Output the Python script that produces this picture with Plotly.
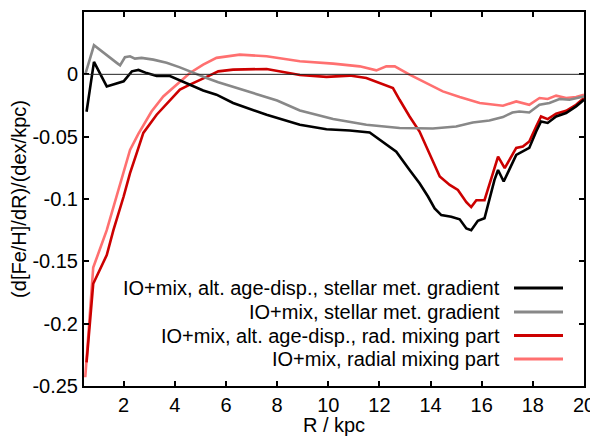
import plotly.graph_objects as go

OUTPUT_FILE = "out.html"

# IO+mix, alt. age-disp., stellar met. gradient
r_black = [0.55, 0.84, 1.34, 2.0, 2.32, 2.58, 2.9, 3.29, 3.81, 4.2, 4.59, 5.11, 5.63, 6.28, 7.59,
           8.89, 9.93, 10.84, 11.62, 12.0, 12.66, 13.18, 13.57, 13.9, 14.16, 14.42, 14.81, 15.14,
           15.4, 15.59, 15.85, 16.11, 16.31, 16.5, 16.64, 16.86, 17.35, 17.86, 18.13, 18.32, 18.58,
           18.91, 19.3, 19.69, 20.0]
g_black = [-0.030, 0.010, -0.0097, -0.0056, 0.0024, 0.0035, 0.001, -0.0013, -0.0013, -0.005, -0.0083,
           -0.013, -0.0163, -0.023, -0.0324, -0.0405, -0.044, -0.045, -0.0467, -0.0525, -0.062, -0.0767,
           -0.0874, -0.098, -0.1075, -0.1129, -0.1142, -0.1163, -0.1236, -0.125, -0.1175, -0.1155,
           -0.1008, -0.0847, -0.0767, -0.086, -0.0646, -0.059, -0.0459, -0.0378, -0.039, -0.0338,
           -0.031, -0.0257, -0.0204]

# IO+mix, stellar met. gradient
r_grey = [0.5, 0.84, 1.73, 1.86, 2.05, 2.25, 2.44, 2.7, 3.16, 3.68, 4.2, 4.72, 5.24, 5.7, 7.0, 8.0,
          8.89, 10.19, 11.49, 12.79, 14.09, 15.0, 15.65, 16.3, 16.83, 17.2, 17.47, 17.86, 18.26,
          18.65, 19.04, 19.43, 20.0]
g_grey = [0.0, 0.0233, 0.0092, 0.0072, 0.0137, 0.0145, 0.0126, 0.0132, 0.0118, 0.0092, 0.0056, 0.0011,
          -0.0029, -0.0064, -0.0145, -0.021, -0.029, -0.0359, -0.0405, -0.0431, -0.0434, -0.0418,
          -0.0386, -0.037, -0.0343, -0.0306, -0.0298, -0.0306, -0.0244, -0.023, -0.0198, -0.0204,
          -0.0177]

# IO+mix, alt. age-disp., rad. mixing part
r_dred = [0.55, 0.81, 1.34, 1.6, 2.0, 2.25, 2.51, 2.77, 3.29, 3.81, 4.2, 4.59, 4.98, 5.37, 5.7, 6.28,
          7.59, 8.89, 9.93, 10.84, 11.49, 12.0, 12.53, 12.79, 13.18, 13.57, 13.96, 14.36, 14.75,
          15.07, 15.4, 15.59, 15.79, 16.11, 16.44, 16.64, 16.9, 17.35, 17.61, 17.86, 18.13, 18.32,
          18.58, 18.91, 19.3, 19.69, 20.0]
g_dred = [-0.231, -0.168, -0.145, -0.125, -0.098, -0.0793, -0.0632, -0.047, -0.0324, -0.0204, -0.0123,
          -0.0083, -0.0043, -0.0008, 0.0024, 0.0038, 0.0043, -0.0005, -0.002, -0.001, -0.003, -0.007,
          -0.011, -0.0204, -0.0338, -0.0459, -0.0632, -0.082, -0.0887, -0.0928, -0.1025, -0.1065,
          -0.101, -0.101, -0.0793, -0.066, -0.0753, -0.059, -0.058, -0.0539, -0.0418, -0.0338,
          -0.0359, -0.0316, -0.0292, -0.0244, -0.019]

# IO+mix, radial mixing part
r_lred = [0.5, 0.81, 1.34, 1.73, 2.0, 2.25, 2.57, 3.09, 3.55, 4.07, 4.59, 5.11, 5.63, 6.54, 7.59, 8.89,
          10.19, 11.23, 11.88, 12.27, 12.6, 13.18, 13.83, 14.48, 15.14, 15.92, 16.83, 17.35, 17.86,
          18.26, 18.58, 18.91, 19.3, 19.69, 20.0]
g_lred = [-0.243, -0.155, -0.125, -0.098, -0.0793, -0.0606, -0.048, -0.0298, -0.0177, -0.0083, 0.0011,
          0.0078, 0.0132, 0.0158, 0.0145, 0.0105, 0.0086, 0.0064, 0.0032, 0.0064, 0.0064, -0.0002,
          -0.0069, -0.0137, -0.0182, -0.023, -0.0252, -0.0217, -0.0244, -0.019, -0.0198, -0.0171,
          -0.019, -0.0182, -0.0163]

labels = ["IO+mix, alt. age-disp., stellar met. gradient",
          "IO+mix, stellar met. gradient",
          "IO+mix, alt. age-disp., rad. mixing part",
          "IO+mix, radial mixing part"]
colors = ["#000000", "#888888", "#cc0000", "#ff7070"]

x_ticks = [2, 4, 6, 8, 10, 12, 14, 16, 18, 20]
y_ticks = [-0.25, -0.2, -0.15, -0.1, -0.05, 0, 0.05]
y_ticktext = ["-0.25", "-0.2", "-0.15", "-0.1", "-0.05", "0", "0.05"]

FONT = "Liberation Sans, Arial, sans-serif"
FS = 20

fig = go.Figure()

# zero reference line
fig.add_hline(y=0, line_color="#222222", line_width=1)

series = [(r_black, g_black), (r_grey, g_grey), (r_dred, g_dred), (r_lred, g_lred)]
# draw light ones first so darker curves stay on top
for idx in [3, 2, 1, 0]:
    xs, ys = series[idx]
    fig.add_trace(go.Scatter(x=xs, y=ys, mode="lines", name=labels[idx],
                             line=dict(color=colors[idx], width=2.6), showlegend=False))

# gnuplot-style key: right-aligned text with the line sample to its right
row_y = [0.262, 0.198, 0.135, 0.072]
for lab, col, yy in zip(labels, colors, row_y):
    fig.add_annotation(x=0.836, y=yy, xref="paper", yref="paper", text=lab, showarrow=False,
                       xanchor="right", yanchor="middle", font=dict(size=FS, color="black", family=FONT))
    fig.add_shape(type="line", xref="paper", yref="paper", x0=0.86, x1=0.958, y0=yy, y1=yy,
                  line=dict(color=col, width=3))

fig.update_xaxes(range=[0.45, 20], tickvals=x_ticks, ticks="inside", ticklen=5, tickwidth=1.5,
                 tickcolor="black", showline=True, linecolor="black", linewidth=2, mirror="ticks",
                 showgrid=False, zeroline=False, automargin=False,
                 title=dict(text="R / kpc", font=dict(size=FS, family=FONT), standoff=0),
                 tickfont=dict(size=FS, family=FONT, color="black"))
fig.update_yaxes(range=[-0.25, 0.05], tickvals=y_ticks, ticktext=y_ticktext, ticks="inside", ticklen=5,
                 tickwidth=1.5, tickcolor="black", showline=True, linecolor="black", linewidth=2,
                 mirror="ticks", showgrid=False, zeroline=False, automargin=False,
                 title=dict(text="(d[Fe/H]/dR)/(dex/kpc)", font=dict(size=FS, family=FONT), standoff=8),
                 tickfont=dict(size=FS, family=FONT, color="black"))

# page body has an 8px margin, so the figure is sized to fit the window after that offset
fig.update_layout(width=590, height=428, margin=dict(l=76, r=14, t=4, b=50),
                  plot_bgcolor="white", paper_bgcolor="white",
                  font=dict(family=FONT, color="black"))

fig.write_html(OUTPUT_FILE)
